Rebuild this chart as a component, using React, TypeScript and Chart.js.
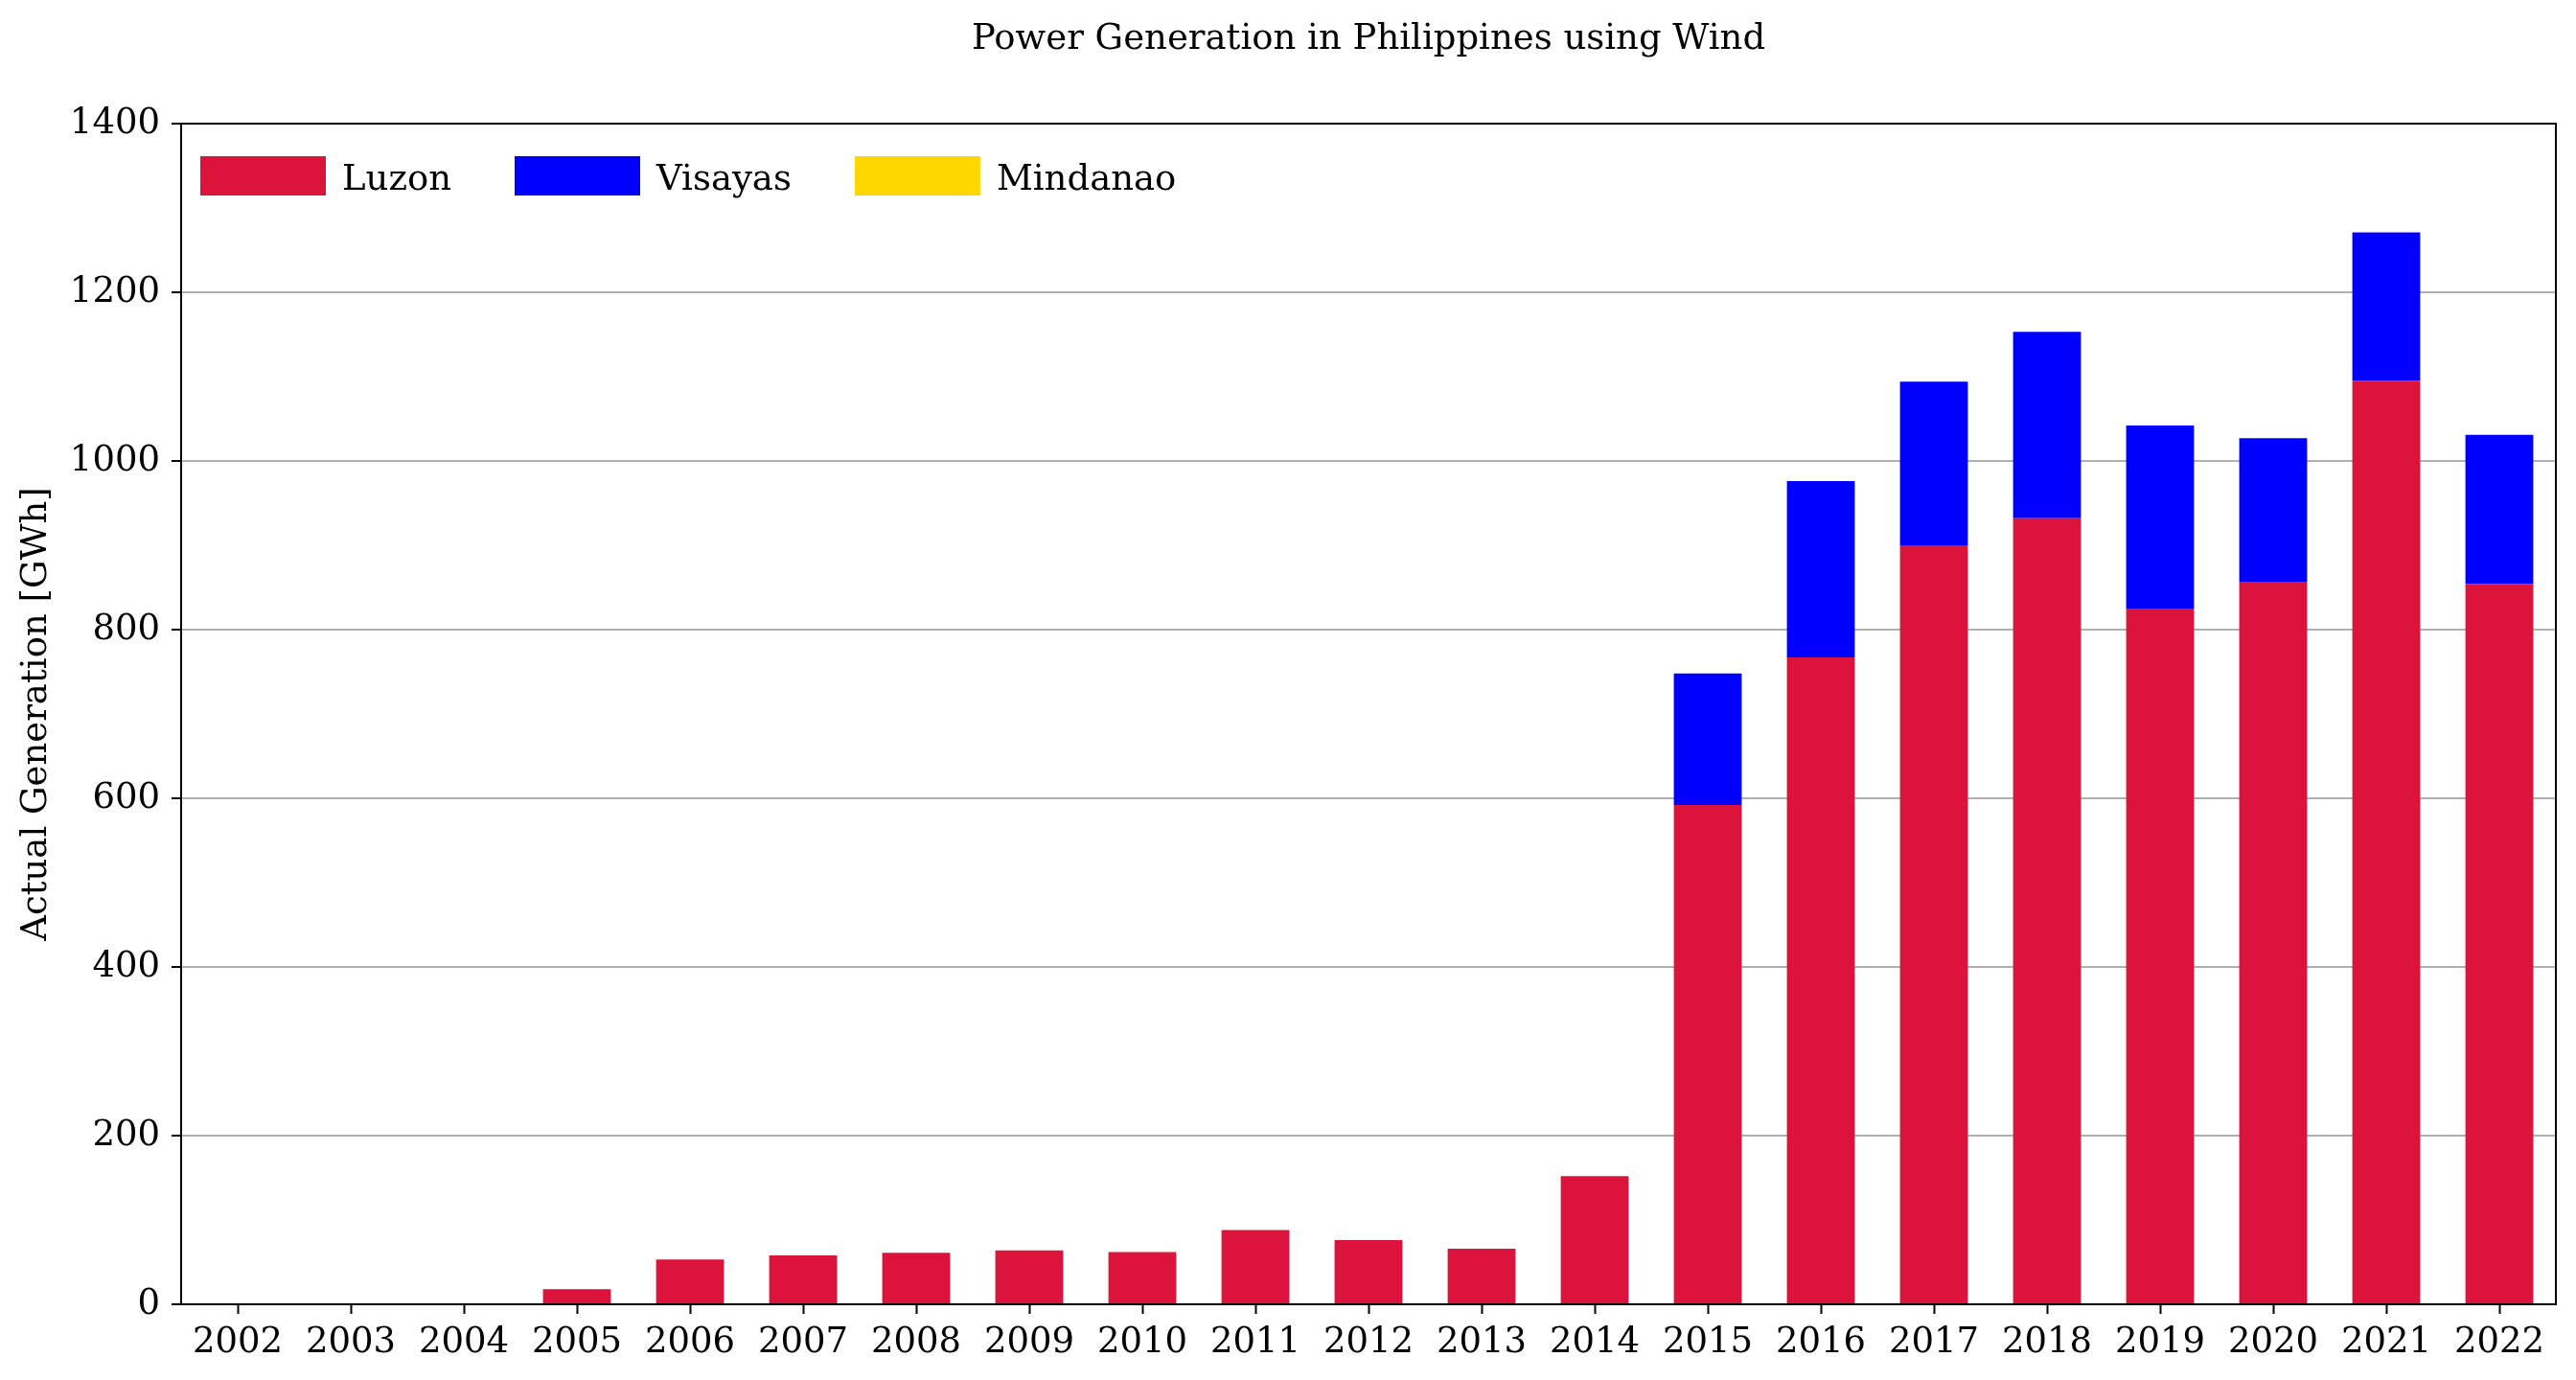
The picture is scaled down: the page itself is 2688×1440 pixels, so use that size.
import React, { useEffect, useRef } from "react";
import { Chart, registerables } from "chart.js";

Chart.register(...registerables);

const years = [
  "2002", "2003", "2004", "2005", "2006", "2007", "2008", "2009", "2010", "2011", "2012",
  "2013", "2014", "2015", "2016", "2017", "2018", "2019", "2020", "2021", "2022",
];
const luzon = [0, 0, 0, 18, 53, 58, 61, 64, 62, 88, 76, 66, 152, 592, 767, 900, 932, 825, 856, 1095, 854];
const visayas = [0, 0, 0, 0, 0, 0, 0, 0, 0, 0, 0, 0, 0, 156, 209, 194, 221, 217, 171, 176, 177];
const mindanao = [0, 0, 0, 0, 0, 0, 0, 0, 0, 0, 0, 0, 0, 0, 0, 0, 0, 0, 0, 0, 0];
const yTicks = [0, 200, 400, 600, 800, 1000, 1200, 1400];

const FONT = "'DejaVu Serif', serif";
const FS = 37;

export default function App() {
  const ref = useRef<HTMLCanvasElement>(null);

  useEffect(() => {
    const canvas = ref.current;
    if (!canvas) return;

    const legendPlugin = {
      id: "inlineLegend",
      afterDatasetsDraw(chart: any) {
        const { ctx, chartArea } = chart;
        ctx.save();
        ctx.font = `${FS}px ${FONT}`;
        ctx.textBaseline = "middle";
        ctx.textAlign = "left";
        let x = chartArea.left + 20;
        const top = chartArea.top + 34;
        chart.data.datasets.forEach((ds: any) => {
          ctx.fillStyle = ds.backgroundColor;
          ctx.fillRect(x, top, 131, 41);
          ctx.fillStyle = "#000";
          ctx.fillText(ds.label, x + 148, top + 25);
          x += 148 + ctx.measureText(ds.label).width + 66;
        });
        ctx.restore();
      },
    };

    const framePlugin = {
      id: "frame",
      afterDraw(chart: any) {
        const { ctx, chartArea } = chart;
        ctx.save();
        ctx.strokeStyle = "#000";
        ctx.lineWidth = 2;
        ctx.strokeRect(chartArea.left, chartArea.top, chartArea.right - chartArea.left, chartArea.bottom - chartArea.top);
        ctx.restore();
      },
    };

    const chart = new Chart(canvas, {
      type: "bar",
      data: {
        labels: years,
        datasets: [
          { label: "Luzon", data: luzon, backgroundColor: "#DC143C", borderWidth: 0, barPercentage: 0.6, categoryPercentage: 1.0 },
          { label: "Visayas", data: visayas, backgroundColor: "#0000FF", borderWidth: 0, barPercentage: 0.6, categoryPercentage: 1.0 },
          { label: "Mindanao", data: mindanao, backgroundColor: "#FFD700", borderWidth: 0, barPercentage: 0.6, categoryPercentage: 1.0 },
        ],
      },
      options: {
        responsive: false,
        animation: false,
        devicePixelRatio: 1,
        layout: { padding: { top: 0, right: 21, bottom: 0, left: 0 } },
        plugins: {
          legend: { display: false },
          tooltip: { enabled: false },
          title: {
            display: true,
            text: "Power Generation in Philippines using Wind",
            font: { family: FONT, size: FS, weight: "normal" },
            color: "#000",
            padding: { top: 19, bottom: 65.6 },
            fullSize: false,
          },
        },
        scales: {
          x: {
            stacked: true,
            grid: { display: true, offset: false, drawOnChartArea: false, tickLength: 10, tickColor: "#000", tickWidth: 2 },
            border: { display: true, color: "#000", width: 2 },
            ticks: { font: { family: FONT, size: FS }, color: "#000", padding: 8, maxRotation: 0, autoSkip: false },
            afterFit(s: any) { s.height = 79; },
          },
          y: {
            stacked: true,
            min: yTicks[0],
            max: yTicks[yTicks.length - 1],
            afterBuildTicks(s: any) { s.ticks = yTicks.map((v) => ({ value: v })); },
            ticks: {
              font: { family: FONT, size: FS },
              color: "#000",
              padding: 12,
              callback: (v: any) => String(v),
            },
            grid: { color: "#b0b0b0", lineWidth: 2, tickColor: "#000", tickLength: 10, tickWidth: 2 },
            border: { display: true, color: "#000", width: 2 },
            title: {
              display: true,
              text: "Actual Generation [GWh]",
              font: { family: FONT, size: FS },
              color: "#000",
              padding: { top: 16, bottom: 0 },
            },
            afterFit(s: any) { s.width = 189; },
          },
        },
      },
      plugins: [legendPlugin, framePlugin],
    });

    return () => chart.destroy();
  }, []);

  return (
    <div style={{ position: "absolute", left: 0, top: 0, width: 2688, height: 1440, background: "#fff" }}>
      <canvas ref={ref} width={2688} height={1440} style={{ display: "block", width: 2688, height: 1440 }} />
    </div>
  );
}
